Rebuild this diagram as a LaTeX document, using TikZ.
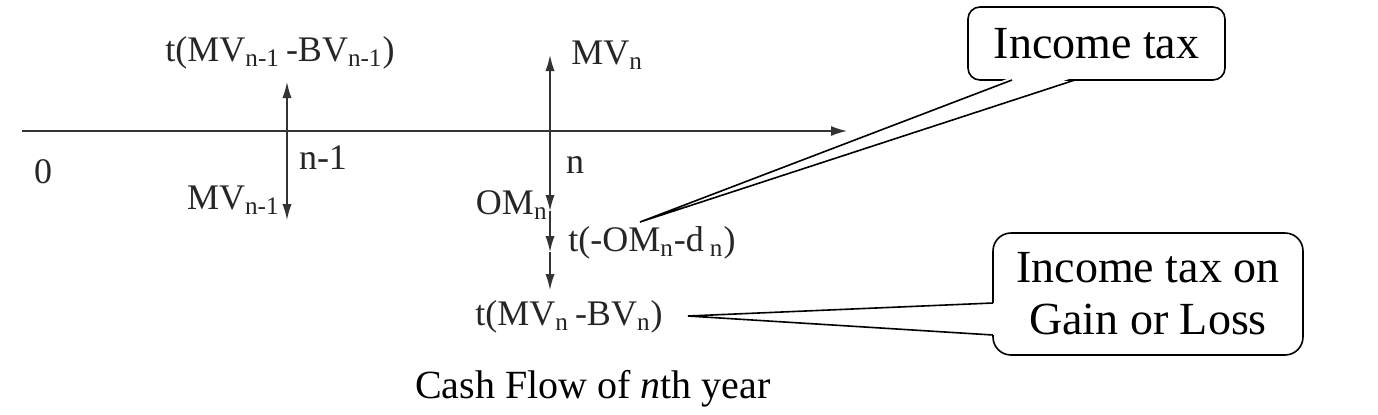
\documentclass[tikz,border=0pt]{standalone}
\usepackage{fontspec}
\setmainfont{Liberation Serif}
\usetikzlibrary{arrows.meta,calc}

\begin{document}
\begin{tikzpicture}[
x=0.5pt, y=-0.5pt,
ax/.style={draw=black!80, line width=0.7pt, -{Latex[length=8pt,width=5pt]}},
fl/.style={draw=black!80, line width=0.7pt, -{Latex[length=8pt,width=4.6pt]}},
lb/.style={text=black!85, font=\rmfamily\fontsize{18}{20}\selectfont, inner sep=0pt},
co/.style={draw, line width=0.8pt, rounded corners=#1, fill=white, align=center, inner sep=0pt, font=\rmfamily\fontsize{23}{26}\selectfont},
co/.default=6pt,
pt/.style={draw, line width=0.8pt}
]
\useasboundingbox (0,0) rectangle (1378,414);
\coordinate (o)  at (22,131);
\coordinate (e)  at (847,131);
\coordinate (k)  at (287,131);
\coordinate (kt) at (287,82);
\coordinate (kb) at (287,220);
\coordinate (m)  at (550,131);
\coordinate (mt) at (550,55);
\coordinate (m1) at (550,211);
\coordinate (m2) at (550,252);
\coordinate (m3) at (550,290);
\draw[ax] (o) -- (e);
\draw[fl] (k) -- (kt); \draw[fl] (k) -- (kb);
\draw[fl] (m) -- (mt);
\draw[fl] (m) -- (m1); \draw[fl] (m1) -- (m2); \draw[fl] (m2) -- (m3);
\node[lb] (zero) at (43,172) {0};
\node[lb] (nm1)  at (323,158) {n-1};
\node[lb, anchor=east] (mvk) at (280,200) {MV\textsubscript{n-1}};
\node[lb] (tk) at (280,53) {t(MV\textsubscript{n-1}\,-BV\textsubscript{n-1})};
\node[lb, anchor=west] (mvn) at (571,55) {MV\textsubscript{n}};
\node[lb] (nn) at (575,165) {n};
\node[lb, anchor=east] (omn) at (548,205) {OM\textsubscript{n}};
\node[lb, anchor=west] (tom) at (568,243) {t(-OM\textsubscript{n}-d\,\textsubscript{n})};
\node[lb] (tmv) at (569,317) {t(MV\textsubscript{n}\,-BV\textsubscript{n})};
\node[font=\rmfamily\fontsize{20}{24}\selectfont] (cap) at (593,389) {Cash Flow of \emph{n}th year};
\node[co, minimum width=128.5pt, minimum height=36.5pt] (tax) at (1096.5,43.5) {Income tax};
\node[co=9pt, minimum width=155pt, minimum height=61pt] (gain) at (1148,294) {Income tax on\\Gain or Loss};
\coordinate (ta) at (1012,80);
\coordinate (tb) at (1075,80);
\coordinate (tt) at (640,222);
\coordinate (ga) at (993,303);
\coordinate (gb) at (993,335);
\coordinate (gt) at (688,316);
\fill[white] ($(ta)+(0,-3)$) -- (tt) -- ($(tb)+(0,-3)$) -- cycle;
\draw[pt] (ta) -- (tt) -- (tb);
\fill[white] ($(ga)+(3,0)$) -- (gt) -- ($(gb)+(3,0)$) -- cycle;
\draw[pt] (ga) -- (gt) -- (gb);
\end{tikzpicture}
\end{document}
